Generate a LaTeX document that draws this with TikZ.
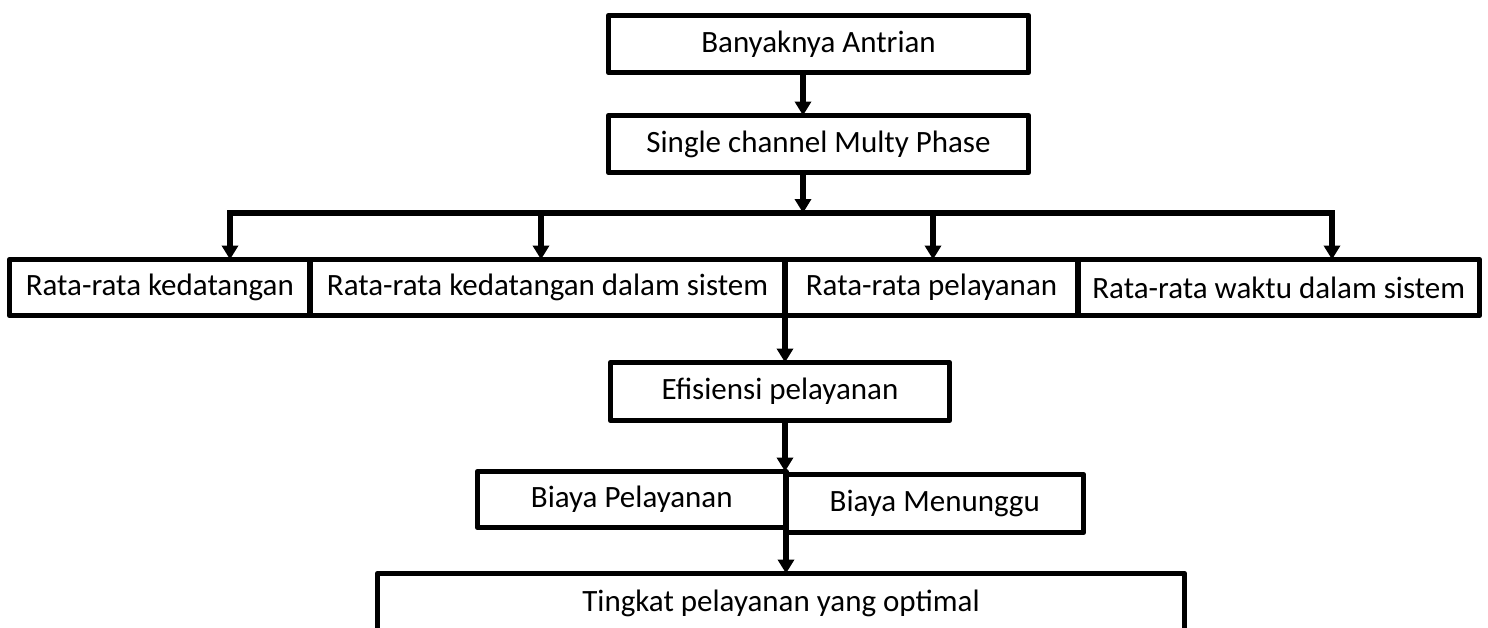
\documentclass[tikz,border=0pt]{standalone}
\usepackage{fontspec}
\setmainfont{Carlito}
\usetikzlibrary{arrows.meta}
\begin{document}
\begin{tikzpicture}[x=1pt,y=-1pt,
  box/.style={draw, line width=5.5pt, line join=round, inner sep=0pt, outer sep=0pt, fill=white,
    font=\fontsize{31}{36}\selectfont},
  arr/.style={line width=5.5pt, line join=miter, -{Triangle[length=14pt,width=16pt]}}]
\useasboundingbox (0,0) rectangle (1488,627);
\clip (0,0) rectangle (1488,627);
\fill[white] (0,0) rectangle (1488,627);
% nodes
\node[box, minimum width=420pt, minimum height=57pt] (b1) at (818.5,44) {Banyaknya Antrian};
\node[box, minimum width=420pt, minimum height=57pt] (b2) at (818.5,144) {Single channel Multy Phase};
\node[box, minimum width=300.5pt, minimum height=56pt] (r1) at (159.75,287.5) {Rata-rata kedatangan};
\node[box, minimum width=475pt, minimum height=56pt] (r2) at (547.5,287.5) {Rata-rata kedatangan dalam sistem};
\node[box, minimum width=293pt, minimum height=56pt] (r3) at (931.5,287.5) {Rata-rata pelayanan};
\node[box, minimum width=401.5pt, minimum height=56pt] (r4) at (1278.75,287.5) {Rata-rata waktu dalam sistem};
\node[box, minimum width=339pt, minimum height=58pt] (ef) at (780,391.5) {Efisiensi pelayanan};
\node[box, minimum width=308.5pt, minimum height=56pt] (bp) at (631.75,499.5) {Biaya Pelayanan};
\node[box, minimum width=297.5pt, minimum height=58pt] (bm) at (934.75,503.5) {Biaya Menunggu};
\node[box, minimum width=807pt, minimum height=59pt] (tk) at (781,603) {Tingkat pelayanan yang optimal};
% junction coordinates
\coordinate (j)  at (803,213);
\coordinate (hl) at (230,213);
\coordinate (hr) at (1332,213);
\coordinate (a2) at (541,213);
\coordinate (a3) at (933,213);
% connectors
\draw[arr] ([xshift=-15.5pt]b1.south) -- ([xshift=-15.5pt]b2.north);
\draw[arr] ([xshift=-15.5pt]b2.south) -- (j);
\draw[arr] (j) -- (hl) -- (hl |- r1.north);
\draw[arr] (j) -- (hr) -- (hr |- r4.north);
\draw[arr] (a2) -- (a2 |- r2.north);
\draw[arr] (a3) -- (a3 |- r3.north);
\draw[arr] (r2.south east) -- (r2.south east |- ef.north);
\draw[arr] (r2.south east |- ef.south) -- (r2.south east |- bp.north);
\draw[arr] (bm.south west) -- (bm.south west |- tk.north);
\end{tikzpicture}
\end{document}
